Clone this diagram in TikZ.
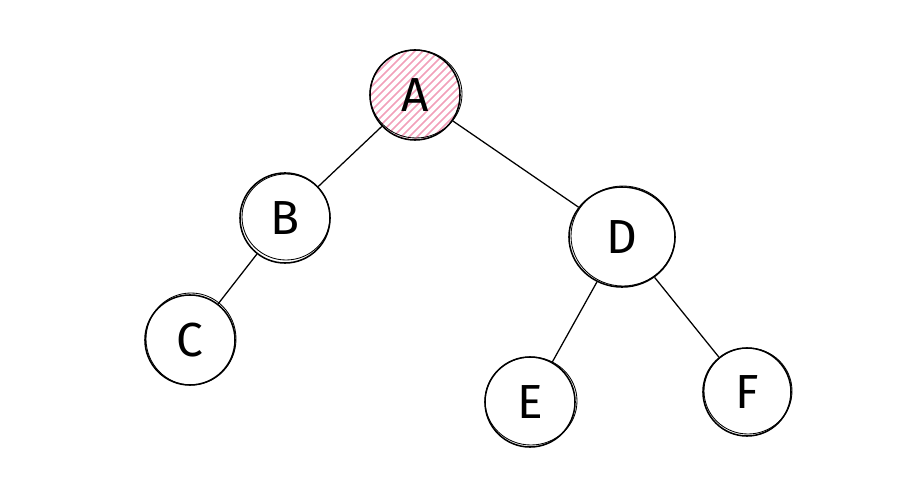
\documentclass[tikz,border=0pt]{standalone}
\usepackage{fontspec}
\setmainfont{Fira Sans}
\usetikzlibrary{calc,shapes.geometric}
\definecolor{hatchpink}{RGB}{242,160,186}

\begin{document}
\begin{tikzpicture}[x=0.025cm, y=-0.025cm,
		vertex/.style={circle, draw=black, line width=1.1pt, minimum size=2.25cm, inner sep=0pt, font=\fontsize{34}{38}\selectfont},
		sketch/.style={black, line width=0.6pt},
		edge/.style={line width=0.9pt}]
		\useasboundingbox (0,0) rectangle (901,504);
		% pink hatching of the root
		\begin{scope}
			\clip (415,95) circle [radius=45];
			\foreach \x in {250,258,...,580}
				\draw[hatchpink, line width=1.1pt] (\x,160) -- (\x+130,30);
		\end{scope}
		\node[vertex] (A) at (415,95) {A};
		\node[vertex] (B) at (285,218) {B};
		\node[vertex] (C) at (190,340) {C};
		\node[vertex, ellipse, minimum width=2.65cm, minimum height=2.5cm] (D) at (622,237) {D};
		\node[vertex] (E) at (530,402) {E};
		\node[vertex, minimum size=2.2cm] (F) at (747,392) {F};
		% second pen stroke
		\foreach \n/\rx/\ry in {A/46/44, B/44/43, C/45/46, E/46/44, F/44/43}
			\draw[sketch] ($(\n)+(1,-1)$) ellipse [x radius=\rx, y radius=\ry];
		\draw[sketch] ($(D)+(1,-1)$) ellipse [x radius=52, y radius=50];
		\draw[edge] (A) -- (B);
		\draw[edge] (A) -- (D);
		\draw[edge] (B) -- (C);
		\draw[edge] (D) -- (E);
		\draw[edge] (D) -- (F);
	\end{tikzpicture}
\end{document}
